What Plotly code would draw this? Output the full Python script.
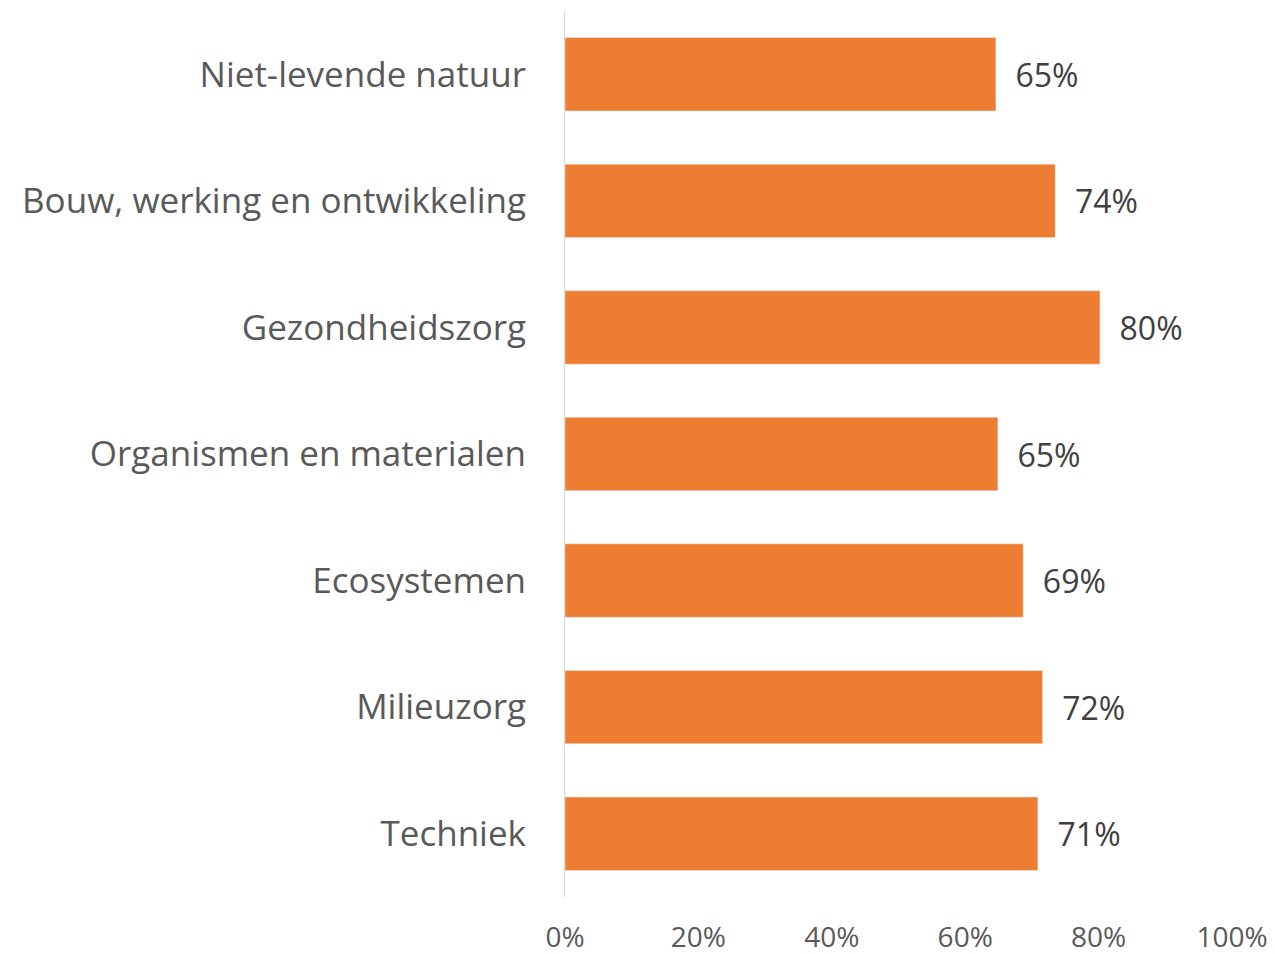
import plotly.graph_objects as go

categorieen = ['Niet-levende natuur', 'Bouw, werking en ontwikkeling', 'Gezondheidszorg',
               'Organismen en materialen', 'Ecosystemen', 'Milieuzorg', 'Techniek']
percentages = [0.646, 0.735, 0.802, 0.649, 0.687, 0.716, 0.709]
tick_waarden = [0, 0.2, 0.4, 0.6, 0.8, 1.0]
tick_labels = ['0%', '20%', '40%', '60%', '80%', '100%']

fig = go.Figure(go.Bar(
    x=percentages,
    y=categorieen,
    orientation='h',
    marker_color='#ED7D31',
    texttemplate='\u00a0\u00a0%{x:.0%}',
    textposition='outside',
    textfont=dict(size=32, color='#404040'),
    cliponaxis=False,
))

fig.update_layout(
    width=1275, height=954,
    margin=dict(l=565, r=43, t=11, b=57),
    paper_bgcolor='white',
    plot_bgcolor='white',
    font=dict(family='Open Sans', color='#595959'),
    bargap=0.42,
    showlegend=False,
)
fig.update_xaxes(range=[0, 1], tickvals=tick_waarden, ticktext=tick_labels,
                 tickfont=dict(size=28, color='#595959'), showgrid=False,
                 zeroline=False, showline=False, ticks='', ticklabelstandoff=21,
                 automargin=False)
fig.update_yaxes(autorange='reversed', tickfont=dict(size=35, color='#595959'),
                 showline=True, linecolor='#D9D9D9', linewidth=1, ticks='',
                 ticklabelstandoff=31, showgrid=False, automargin=False)

# standaard body-marge van de pagina weghalen zodat de figuur precies in het venster past
fig.write_html("out.html", config={'displayModeBar': False},
               post_script="document.body.style.margin='0';")
